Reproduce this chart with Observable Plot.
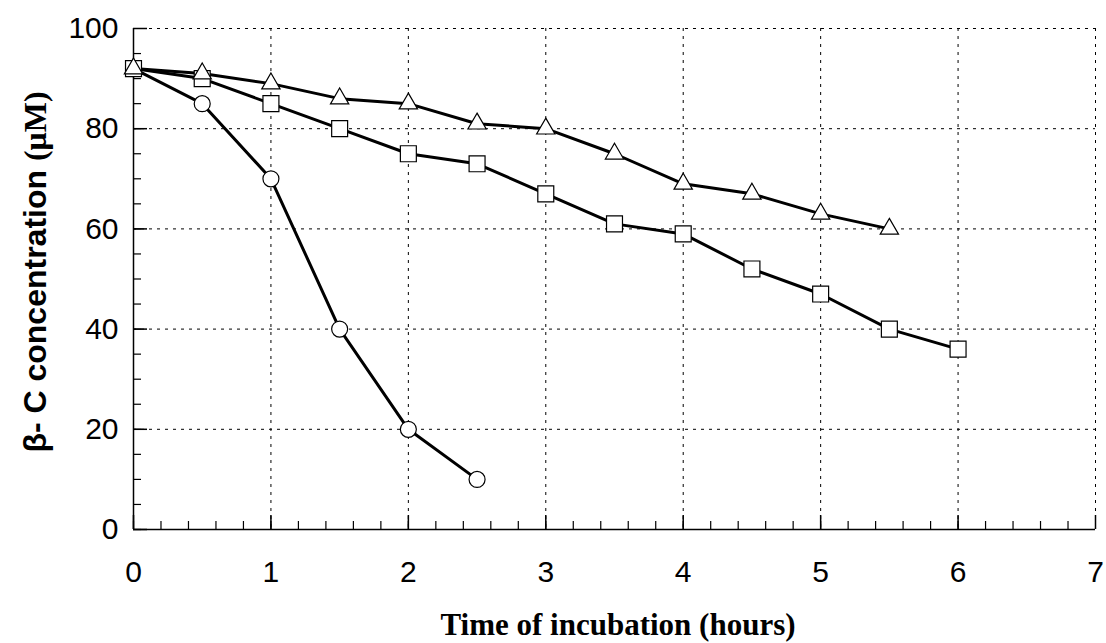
<!DOCTYPE html>
<html>
<head>
<meta charset="utf-8">
<script src="https://cdn.jsdelivr.net/npm/d3@7"></script>
<script src="https://cdn.jsdelivr.net/npm/@observablehq/plot@0.6"></script>
<style>
  html, body { margin: 0; padding: 0; background: #fff; }
</style>
</head>
<body>
<div id="chart"></div>
<script>
// ---- data ----
const circleTime = [0, 0.5, 1, 1.5, 2, 2.5];
const circleConc = [92, 85, 70, 40, 20, 10];

const squareTime = [0, 0.5, 1, 1.5, 2, 2.5, 3, 3.5, 4, 4.5, 5, 5.5, 6];
const squareConc = [92, 90, 85, 80, 75, 73, 67, 61, 59, 52, 47, 40, 36];

const triangleTime = [0, 0.5, 1, 1.5, 2, 2.5, 3, 3.5, 4, 4.5, 5, 5.5];
const triangleConc = [92, 91, 89, 86, 85, 81, 80, 75, 69, 67, 63, 60];

const xTicks = [0, 1, 2, 3, 4, 5, 6, 7];
const yTicks = [0, 20, 40, 60, 80, 100];
const xMinorTicks = d3.range(0, 35).map(i => i / 5);
const yMinorTicks = d3.range(0, 20).map(i => i * 5);

const xLabel = "Time of incubation (hours)";
const yLabelMain = "β- C concentration ";
const yLabelUnit = "(μM)";

// ---- build ----
const series = [
  {name: "circle", times: circleTime, values: circleConc},
  {name: "square", times: squareTime, values: squareConc},
  {name: "triangle", times: triangleTime, values: triangleConc}
];
const rows = series.flatMap(s => s.times.map((t, i) => ({series: s.name, t, v: s.values[i]})));
const symbolR = {circle: 8, square: 9, triangle: 6.8};

const W = 1106, H = 643;
const mL = 133, mR = 11, mT = 28, mB = 114;
const frameW = W - mL - mR, frameH = H - mT - mB;
const font = "'Liberation Sans', Arial, sans-serif";
const serif = "'Liberation Serif', 'Times New Roman', serif";

const marks = [
  // dashed grid
  Plot.ruleX(xTicks.filter(d => d > 0), {x: d => d, stroke: "#000", strokeWidth: 1, strokeDasharray: "3,5"}),
  Plot.ruleY(yTicks.filter(d => d > 0), {y: d => d, stroke: "#000", strokeWidth: 1, strokeDasharray: "3,5"}),
  // axis lines
  Plot.ruleX([0], {x: d => d, stroke: "#000", strokeWidth: 1.5}),
  Plot.ruleY([0], {y: d => d, stroke: "#000", strokeWidth: 1.5}),
  // inward ticks
  Plot.tickX(xMinorTicks, {x: d => d, stroke: "#000", strokeWidth: 1.2, insetTop: frameH - 8}),
  Plot.tickX(xTicks, {x: d => d, stroke: "#000", strokeWidth: 1.5, insetTop: frameH - 14}),
  Plot.tickY(yMinorTicks, {y: d => d, stroke: "#000", strokeWidth: 1.2, insetRight: frameW - 8}),
  Plot.tickY(yTicks, {y: d => d, stroke: "#000", strokeWidth: 1.5, insetRight: frameW - 14}),
  // lines
  ...series.map(s => Plot.line(rows.filter(r => r.series === s.name), {x: "t", y: "v", stroke: "#000", strokeWidth: 3})),
  // markers
  ...series.map(s => Plot.dot(rows.filter(r => r.series === s.name), {
    x: "t", y: "v", symbol: s.name, r: symbolR[s.name], fill: "#fff", stroke: "#000", strokeWidth: 1.2
  })),
  // axes (labels only)
  Plot.axisX(xTicks, {tickSize: 0, tickPadding: 31, fontSize: 30, label: null, fill: "#000", tickFormat: d => String(d)}),
  Plot.axisY(yTicks, {tickSize: 0, tickPadding: 15, fontSize: 30, label: null, fill: "#000", tickFormat: d => String(d)})
];

const chart = Plot.plot({
  width: W,
  height: H,
  marginLeft: mL,
  marginRight: mR,
  marginTop: mT,
  marginBottom: mB,
  x: {domain: [0, 7]},
  y: {domain: [0, 100]},
  style: {fontFamily: font, background: "#fff", color: "#000", overflow: "visible"},
  marks
});

const svg = d3.select(chart);
svg.append("text")
  .attr("x", 618)
  .attr("y", 635)
  .attr("text-anchor", "middle")
  .attr("font-family", serif)
  .attr("font-weight", "bold")
  .attr("font-size", 31)
  .attr("fill", "#000")
  .text(xLabel);

const yl = svg.append("text")
  .attr("transform", `translate(46, 272) rotate(-90)`)
  .attr("text-anchor", "middle")
  .attr("font-weight", "bold")
  .attr("font-size", 32)
  .attr("fill", "#000");
yl.append("tspan").attr("font-family", font).text(yLabelMain);
yl.append("tspan").attr("font-family", serif).text(yLabelUnit);

document.getElementById("chart").appendChild(chart);
</script>
</body>
</html>
